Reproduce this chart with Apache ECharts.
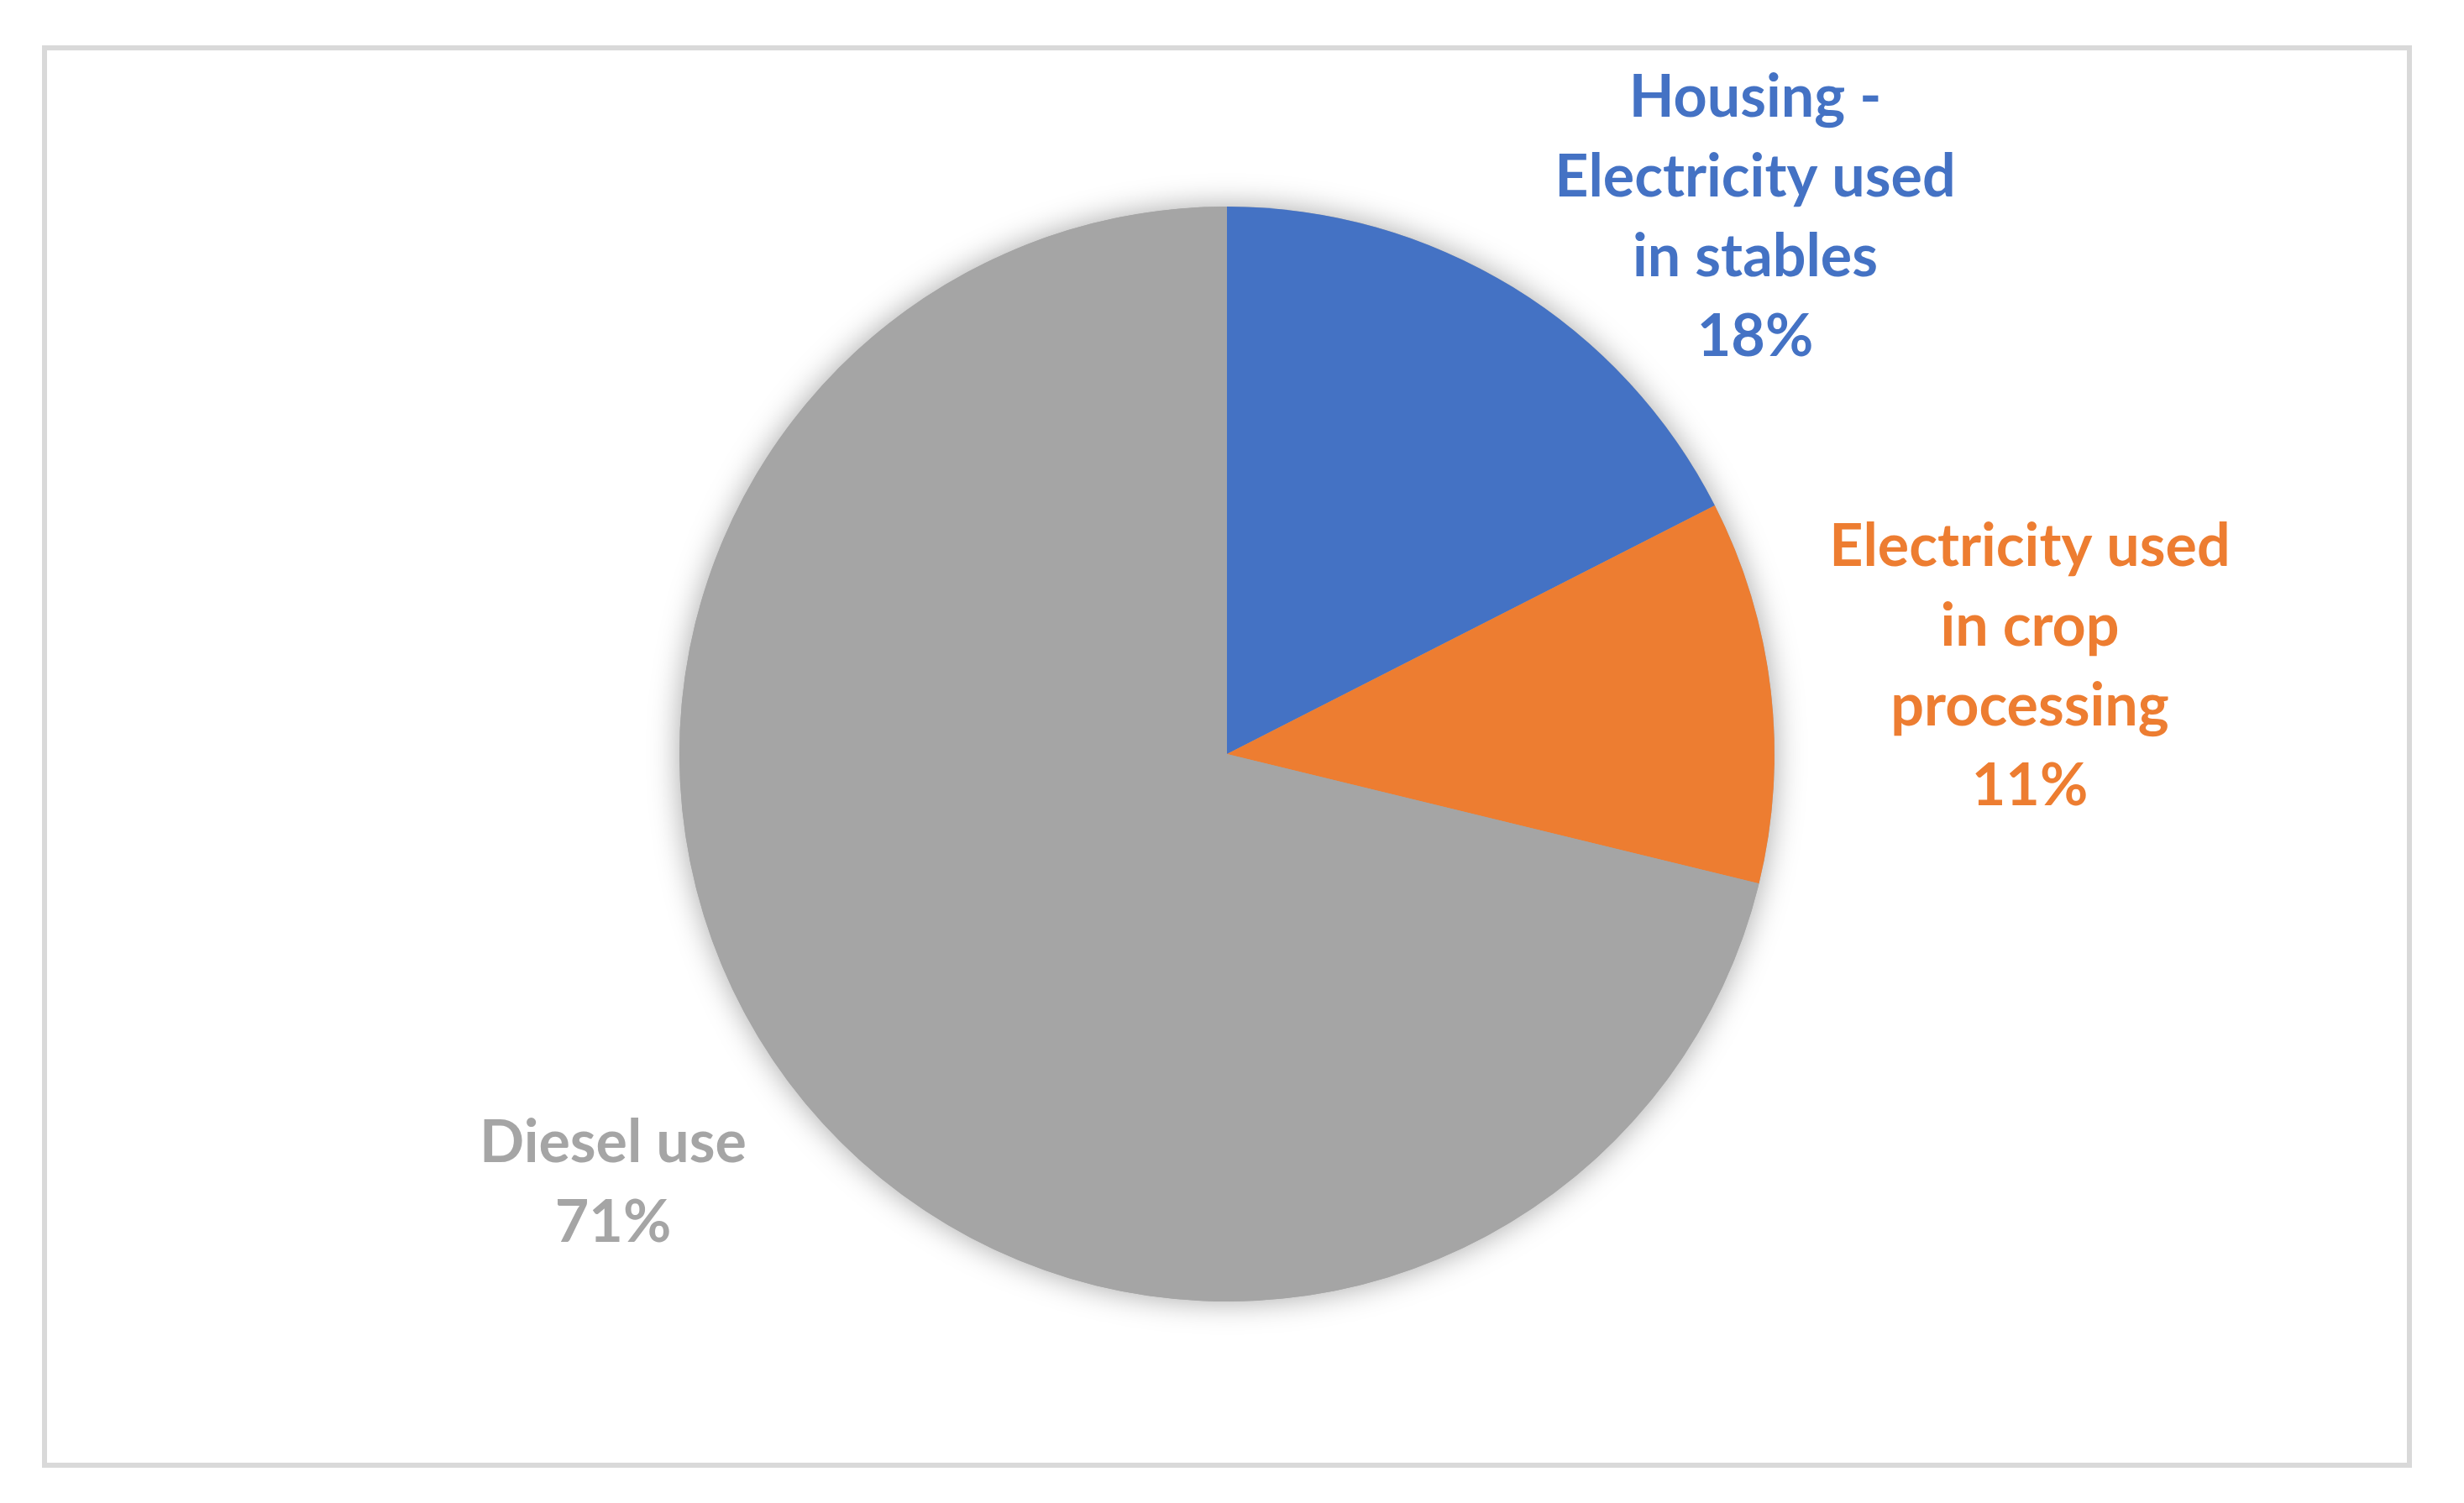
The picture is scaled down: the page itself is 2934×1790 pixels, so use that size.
<!DOCTYPE html>
<html lang="en">
    <head>
        <meta charset="UTF-8" />
        <title>Energy use pie</title>
        <script src="https://cdn.jsdelivr.net/npm/echarts@6/dist/echarts.min.js"></script>
        <style>
            * {
                margin: 0;
                padding: 0;
            }
            body {
                background: #fff;
                overflow: hidden;
            }
            #container {
                width: 2934px;
                height: 1790px;
            }
        </style>
    </head>
    <body>
        <div id="container"></div>
        <script type="text/javascript">
            const categories = ['Housing -\nElectricity used\nin stables', 'Electricity used\nin crop\nprocessing', 'Diesel use'];
            const values = [17.5, 11.3, 71.2];
            const colors = ['#4472C4', '#ED7D31', '#A5A5A5'];

            const total = values.reduce((a, b) => a + b, 0);

            // where each label block sits (centre of text block)
            const labelSpots = [
                [2090, 259],
                [2417, 794],
                [730, 1409],
            ];

            const chartDom = document.getElementById('container');
            const myChart = echarts.init(chartDom);

            const pieCenter = [1461, 898];
            const pieRadius = 652;

            const option = {
                backgroundColor: '#fff',
                animation: false,
                graphic: [
                    {
                        type: 'rect',
                        shape: { x: 53, y: 57, width: 2816, height: 1688 },
                        style: { fill: 'none', stroke: '#d9d9d9', lineWidth: 6 },
                        z: 0,
                    },
                ],
                series: [
                    {
                        // shadow disc behind the slices
                        type: 'pie',
                        silent: true,
                        center: pieCenter,
                        radius: pieRadius,
                        z: 1,
                        label: { show: false },
                        labelLine: { show: false },
                        itemStyle: {
                            color: '#A5A5A5',
                            shadowBlur: 36,
                            shadowColor: 'rgba(0,0,0,0.35)',
                        },
                        data: [{ value: total, name: '' }],
                    },
                    {
                        type: 'pie',
                        center: pieCenter,
                        radius: pieRadius,
                        startAngle: 90,
                        clockwise: true,
                        percentPrecision: 0,
                        z: 2,
                        itemStyle: { borderWidth: 0 },
                        labelLine: { show: false },
                        label: {
                            show: true,
                            position: 'outside',
                            formatter: '{b}\n{d}%',
                            fontFamily: 'Lato',
                            fontWeight: 'bold',
                            fontSize: 70,
                            lineHeight: 95,
                            align: 'center',
                        },
                        labelLayout: function (params) {
                            const p = labelSpots[params.dataIndex];
                            return {
                                x: p[0],
                                y: p[1],
                                align: 'center',
                                verticalAlign: 'middle',
                            };
                        },
                        data: categories.map((c, i) => ({
                            name: c,
                            value: values[i],
                            itemStyle: { color: colors[i] },
                            label: { color: colors[i] },
                        })),
                    },
                ],
            };

            myChart.setOption(option);
        </script>
    </body>
</html>
